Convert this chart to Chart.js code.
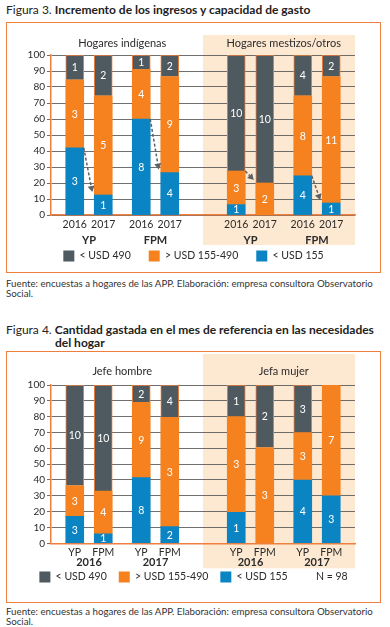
<!DOCTYPE html>
<html lang="es">
<head>
<meta charset="utf-8">
<title>Figuras 3 y 4</title>
<script src="https://cdn.jsdelivr.net/npm/chart.js@4.4.1/dist/chart.umd.min.js"></script>
<style>
  body { margin: 0; width: 390px; height: 627px; background: #fff; position: relative; overflow: hidden;
         font-family: Lato, "Open Sans", sans-serif; color: #222; }
  .titulo { position: absolute; left: 6px; font-size: 12px; line-height: 13px; white-space: nowrap; }
  .titulo b { font-weight: 700; }
  .sangria { padding-left: 49px; }
  .marco { position: absolute; left: 6px; width: 375px; border: 1.5px solid #ee7f3e; box-sizing: border-box; }
  canvas { position: absolute; left: 7px; }
  .fuente { position: absolute; left: 6px; font-size: 9.7px; line-height: 10px; color: #333; white-space: nowrap; }
</style>
</head>
<body>
<div class="titulo" style="top:3px">Figura 3. <b>Incremento de los ingresos y capacidad de gasto</b></div>
<div class="marco" style="top:22px; height:251px"></div>
<canvas id="fig3" width="373" height="249" style="top:23px"></canvas>
<div class="fuente" style="top:278px">Fuente: encuestas a hogares de las APP. Elaboración: empresa consultora Observatorio<br>Social.</div>

<div class="titulo" style="top:323px">Figura 4. <b>Cantidad gastada en el mes de referencia en las necesidades</b><br><b class="sangria">del hogar</b></div>
<div class="marco" style="top:351px; height:252px"></div>
<canvas id="fig4" width="373" height="250" style="top:353px"></canvas>
<div class="fuente" style="top:606px">Fuente: encuestas a hogares de las APP. Elaboración: empresa consultora Observatorio<br>Social.</div>

<script>
// tramos de gasto, de abajo hacia arriba
const bandLabels = ["< USD 155", "> USD 155-490", "< USD 490"];

// Figura 3 (% de hogares; las etiquetas son número de hogares)
const fig3Panels = ["Hogares indígenas", "Hogares mestizos/otros"];
const fig3Programs = ["YP", "FPM", "YP", "FPM"];
const fig3Years = ["2016", "2017", "2016", "2017", "2016", "2017", "2016", "2017"];
const fig3Low = [42, 12.5, 60, 26.5, 6.5, 0, 24.5, 7.5];
const fig3Mid = [42.5, 62, 31, 60, 21, 20, 50, 79];
const fig3High = [15.5, 25.5, 9, 13.5, 72.5, 80, 25.5, 13.5];
const fig3LowN = [3, 1, 8, 4, 1, null, 4, 1];
const fig3MidN = [3, 5, 4, 9, 3, 2, 8, 11];
const fig3HighN = [1, 2, 1, 2, 10, 10, 4, 2];
const fig3Arrows = [[0, 1, 1], [2, 3, 1], [4, 5, 2], [6, 7, 1]]; // desde, hasta, tramos

// Figura 4
const fig4Panels = ["Jefe hombre", "Jefa mujer"];
const fig4Years = ["2016", "2017", "2016", "2017"];
const fig4Programs = ["YP", "FPM", "YP", "FPM", "YP", "FPM", "YP", "FPM"];
const fig4Low = [17, 6, 41.5, 10.5, 19.5, 0, 40, 30];
const fig4Mid = [19.5, 27, 47.5, 69, 60.5, 60.5, 30, 70];
const fig4High = [63.5, 67, 11, 20.5, 20, 39.5, 30, 0];
const fig4LowN = [3, 1, 8, 2, 1, null, 4, 3];
const fig4MidN = [3, 4, 9, 3, 3, 3, 3, 7];
const fig4HighN = [10, 10, 2, 4, 1, 2, 3, null];
const fig4Note = "N = 98";

// disposición
const SLOT_COUNT = 32;
const BAR_SLOTS = [2, 5, 9, 12, 19, 22, 26, 29];
const PANEL_SPLIT = 16;
const COLORS = ["#0b84c4", "#f5821f", "#4e5a5f"];
const ORANGE = "#ee7f3e";
const SHADE = "#fde8d2";
const TEXT = "#2b2b2b";

Chart.defaults.font.family = "Lato, 'Open Sans', sans-serif";

function toSlots(values) {
  const out = new Array(SLOT_COUNT).fill(null);
  BAR_SLOTS.forEach((s, i) => { out[s] = values[i] ? values[i] : null; });
  return out;
}

function slotLabels(names) {
  const out = new Array(SLOT_COUNT).fill("");
  BAR_SLOTS.forEach((s, i) => { out[s] = names[i]; });
  return out;
}

const decor = {
  id: "decor",
  beforeDraw(chart, args, o) {
    const { ctx, chartArea: a, scales: { x } } = chart;
    const left = (x.getPixelForValue(PANEL_SPLIT - 1) + x.getPixelForValue(PANEL_SPLIT)) / 2;
    ctx.save();
    ctx.fillStyle = SHADE;
    ctx.fillRect(left, a.top - o.shadeAbove, a.right - left, a.bottom - a.top + o.shadeAbove + o.shadeBelow);
    ctx.restore();
  },
  afterDatasetsDraw(chart, args, o) {
    const { ctx, scales: { y } } = chart;
    ctx.save();
    ctx.font = "10.5px Lato";
    ctx.fillStyle = "#fff";
    ctx.textAlign = "center";
    ctx.textBaseline = "middle";
    o.counts.forEach((counts, d) => {
      const meta = chart.getDatasetMeta(d + o.firstBand);
      BAR_SLOTS.forEach((s, i) => {
        if (counts[i] == null) return;
        const el = meta.data[s];
        ctx.fillText(String(counts[i]), el.x, (el.y + el.base) / 2 + 0.5);
      });
    });
    ctx.restore();

    // flechas entre 2016 y 2017
    const level = (i, n) => o.bands.slice(0, n).reduce((acc, b) => acc + b[i], 0);
    const meta = chart.getDatasetMeta(o.firstBand);
    (o.arrows || []).forEach(([from, to, n]) => {
      const a = meta.data[BAR_SLOTS[from]];
      const b = meta.data[BAR_SLOTS[to]];
      const x0 = a.x + a.width / 2, y0 = y.getPixelForValue(level(from, n));
      const x1 = b.x - b.width / 2 - 2, y1 = y.getPixelForValue(level(to, n)) - 3;
      const ang = Math.atan2(y1 - y0, x1 - x0);
      const hx = x1 - 6 * Math.cos(ang), hy = y1 - 6 * Math.sin(ang);
      ctx.save();
      ctx.strokeStyle = "#5b6265";
      ctx.fillStyle = "#5b6265";
      ctx.lineWidth = 1.5;
      ctx.setLineDash([3, 2]);
      ctx.beginPath();
      ctx.moveTo(x0, y0);
      ctx.lineTo(hx, hy);
      ctx.stroke();
      ctx.setLineDash([]);
      ctx.beginPath();
      ctx.moveTo(x1, y1);
      ctx.lineTo(hx + 3.5 * Math.sin(ang), hy - 3.5 * Math.cos(ang));
      ctx.lineTo(hx - 3.5 * Math.sin(ang), hy + 3.5 * Math.cos(ang));
      ctx.closePath();
      ctx.fill();
      ctx.restore();
    });
  },
  afterDraw(chart, args, o) {
    const { ctx, chartArea: a, scales: { x } } = chart;
    const px = (i) => x.getPixelForValue(BAR_SLOTS[i]);
    ctx.save();
    ctx.fillStyle = TEXT;
    ctx.textAlign = "center";
    ctx.textBaseline = "middle";
    ctx.font = "11px Lato";
    o.panels.forEach((p, k) => {
      ctx.fillText(p, (px(4 * k) + px(4 * k + 3)) / 2, a.top - o.titleOffset);
    });
    ctx.font = "bold 11px Lato";
    o.groups.forEach((g, k) => {
      ctx.fillText(g, (px(2 * k) + px(2 * k + 1)) / 2, a.bottom + o.groupOffset);
    });
    ctx.restore();
  }
};

function buildChart(id, cfg) {
  const datasets = cfg.bands.map((vals, d) => ({
    label: bandLabels[d],
    data: toSlots(vals),
    backgroundColor: COLORS[d],
    borderColor: ORANGE,
    borderWidth: d === 2 ? 1 : 0,
    barThickness: 18,
    stack: "s"
  }));
  if (cfg.note) {
    datasets.unshift({ label: cfg.note, data: toSlots([]), backgroundColor: "rgba(0,0,0,0)", borderWidth: 0, stack: "s" });
  }
  return new Chart(document.getElementById(id), {
    type: "bar",
    data: { labels: slotLabels(cfg.ticks), datasets: datasets },
    plugins: [decor],
    options: {
      responsive: false,
      animation: false,
      layout: { padding: { top: 32, right: 0, left: 0, bottom: cfg.padBottom } },
      scales: {
        x: {
          stacked: true,
          grid: { display: false, drawTicks: false },
          border: { color: ORANGE, width: 1.5 },
          ticks: { autoSkip: false, maxRotation: 0, padding: 3.5, color: TEXT, font: { size: 10.5 } },
          afterFit: (s) => { s.height = cfg.axisHeight; }
        },
        y: {
          stacked: true,
          min: 0,
          max: 100,
          grid: { color: "#4a4a4a", lineWidth: 0.8, tickLength: 4 },
          border: { color: ORANGE, width: 1.5 },
          ticks: { stepSize: 10, padding: 2, color: TEXT, font: { size: 10 } },
          afterFit: (s) => { s.width = 44; }
        },
        // margen derecho vacío, para que la leyenda quede centrada en el recuadro
        margen: {
          type: "linear",
          position: "right",
          grid: { display: false, drawTicks: false },
          border: { display: false },
          ticks: { display: false },
          afterFit: (s) => { s.width = 25; }
        }
      },
      plugins: {
        tooltip: { enabled: false },
        legend: {
          position: "bottom",
          reverse: true,
          labels: {
            boxWidth: 11,
            boxHeight: 11,
            padding: cfg.legendGap,
            color: TEXT,
            font: { size: 10.5 },
            generateLabels: (chart) =>
              Chart.defaults.plugins.legend.labels.generateLabels(chart).map((l) => ({ ...l, lineWidth: 0 }))
          }
        },
        decor: {
          panels: cfg.panels,
          groups: cfg.groups,
          bands: cfg.bands,
          counts: cfg.counts,
          arrows: cfg.arrows,
          firstBand: cfg.note ? 1 : 0,
          shadeAbove: cfg.shadeAbove,
          shadeBelow: cfg.shadeBelow,
          titleOffset: cfg.titleOffset,
          groupOffset: cfg.groupOffset
        }
      }
    }
  });
}

buildChart("fig3", {
  ticks: fig3Years,
  panels: fig3Panels,
  groups: fig3Programs,
  bands: [fig3Low, fig3Mid, fig3High],
  counts: [fig3LowN, fig3MidN, fig3HighN],
  arrows: fig3Arrows,
  legendGap: 18,
  padBottom: 0.5,
  axisHeight: 17.5,
  shadeAbove: 20,
  shadeBelow: 30,
  titleOffset: 11.5,
  groupOffset: 25
});

buildChart("fig4", {
  ticks: fig4Programs,
  panels: fig4Panels,
  groups: fig4Years,
  bands: [fig4Low, fig4Mid, fig4High],
  counts: [fig4LowN, fig4MidN, fig4HighN],
  note: fig4Note,
  legendGap: 12,
  padBottom: 10.5,
  axisHeight: 16.2,
  shadeAbove: 31,
  shadeBelow: 25,
  titleOffset: 13.3,
  groupOffset: 19.5
});
</script>
</body>
</html>
